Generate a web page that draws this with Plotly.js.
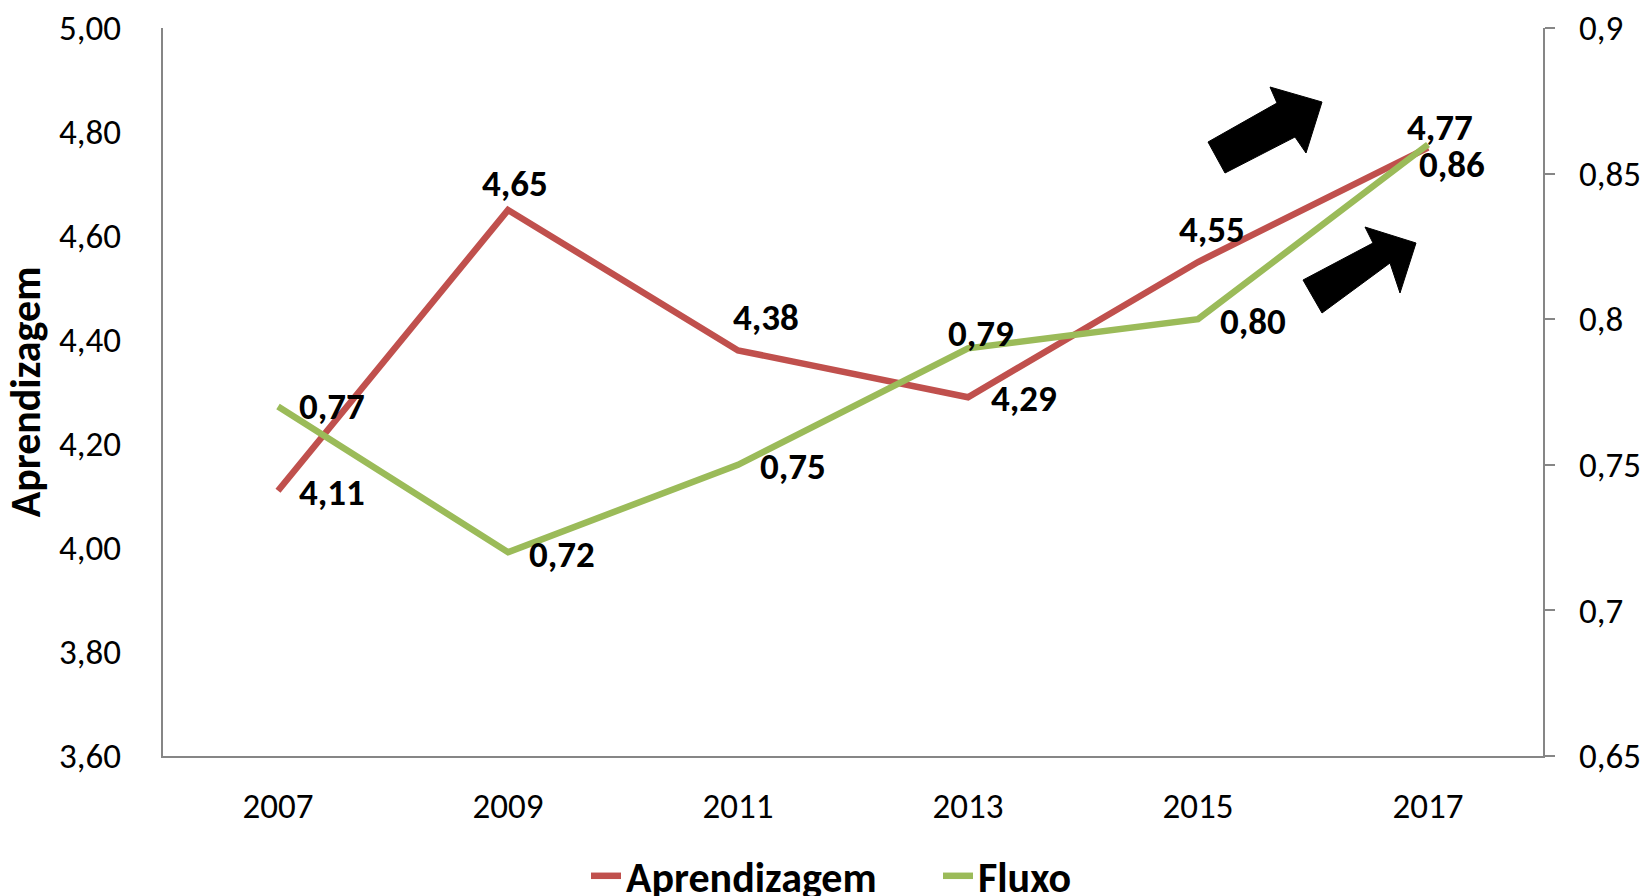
<!DOCTYPE html>
<html>
<head>
<meta charset="utf-8">
<script src="https://cdn.plot.ly/plotly-3.0.1.min.js"></script>
<style>html,body{margin:0;padding:0;background:#fff;}#chart{width:1646px;height:896px;}</style>
</head>
<body>
<div id="chart"></div>
<script>
// ---- data ----
const years = ["2007", "2009", "2011", "2013", "2015", "2017"];
const aprendizagem = [4.11, 4.65, 4.38, 4.29, 4.55, 4.77];
const fluxo = [0.77, 0.72, 0.75, 0.79, 0.80, 0.86];
const leftTickVals = [3.6, 3.8, 4.0, 4.2, 4.4, 4.6, 4.8, 5.0];
const leftTickText = ["3,60", "3,80", "4,00", "4,20", "4,40", "4,60", "4,80", "5,00"];
const rightTickVals = [0.65, 0.7, 0.75, 0.8, 0.85, 0.9];
const rightTickText = ["0,65", "0,7", "0,75", "0,8", "0,85", "0,9"];

// ---- label offsets (pixels) ----
const aprShift = [[54, -2], [7, 27], [28, 33], [56, -1], [14, 33], [12, 20]];
const fluShift = [[54, 0], [54, -2], [55, -2], [13, 15], [55, -2], [24, -20]];

const W = 1646, H = 896;
const M = {l: 163, r: 103, t: 28, b: 140, autoexpand: false};
const FONT = "Carlito, Calibri, 'Liberation Sans', Arial, sans-serif";
const RED = "#C0504D", GREEN = "#9BBB59", AXIS = "#868686";

function fmt(v) { return v.toFixed(2).replace('.', ','); }
function px(x) { return (x - M.l) / (W - M.l - M.r); }
function py(y) { return 1 - (y - M.t) / (H - M.t - M.b); }
function pathOf(pts) {
  return 'M ' + pts.map(p => px(p[0]) + ',' + py(p[1])).join(' L ') + ' Z';
}

const arrow1 = [[1208,142],[1277,103],[1270,87],[1322,102],[1306,153],[1295,137],[1225,173]];
const arrow2 = [[1303,280],[1373,243],[1365,227],[1416,243],[1400,293],[1390,263],[1322,313]];

const traces = [
  {x: years, y: aprendizagem, name: "Aprendizagem", type: "scatter", mode: "lines",
   line: {color: RED, width: 6.5}, yaxis: "y"},
  {x: years, y: fluxo, name: "Fluxo", type: "scatter", mode: "lines",
   line: {color: GREEN, width: 6.5}, yaxis: "y2"}
];

const labelFont = {family: FONT, size: 37, color: "#000"};
const annotations = [];
years.forEach((yr, i) => {
  annotations.push({x: i, y: aprendizagem[i], xref: "x", yref: "y", text: "<b>" + fmt(aprendizagem[i]) + "</b>",
    showarrow: false, xshift: aprShift[i][0], yshift: aprShift[i][1], font: labelFont});
  annotations.push({x: i, y: fluxo[i], xref: "x", yref: "y2", text: "<b>" + fmt(fluxo[i]) + "</b>",
    showarrow: false, xshift: fluShift[i][0], yshift: fluShift[i][1], font: labelFont});
});

const tickFont = {family: FONT, size: 35, color: "#000"};
const layout = {
  width: W, height: H,
  margin: M,
  paper_bgcolor: "#fff", plot_bgcolor: "#fff",
  showlegend: true,
  font: {family: FONT, size: 35, color: "#000"},
  xaxis: {
    type: "category", range: [-0.5, 5.5],
    showgrid: false, zeroline: false,
    showline: true, linecolor: AXIS, linewidth: 2,
    ticks: "", ticklabelstandoff: 18,
    tickfont: tickFont
  },
  yaxis: {
    range: [3.6, 5.0], tickvals: leftTickVals, ticktext: leftTickText,
    showgrid: false, zeroline: false,
    showline: true, linecolor: AXIS, linewidth: 2,
    ticks: "", ticklabelstandoff: 33,
    tickfont: tickFont,
    title: {text: "Aprendizagem", font: {family: FONT, size: 42, color: "#000", weight: "bold"}, standoff: 6}
  },
  yaxis2: {
    overlaying: "y", side: "right",
    range: [0.65, 0.9], tickvals: rightTickVals, ticktext: rightTickText,
    showgrid: false, zeroline: false,
    showline: true, linecolor: AXIS, linewidth: 2,
    ticks: "outside", ticklen: 10, tickcolor: AXIS, tickwidth: 2, ticklabelstandoff: 17,
    tickfont: tickFont
  },
  legend: {
    orientation: "h", x: px(586), xanchor: "left", y: py(876), yanchor: "middle",
    font: {family: FONT, size: 42, color: "#000", weight: "bold"},
    entrywidth: 307,
    bgcolor: "rgba(0,0,0,0)"
  },
  annotations: annotations,
  shapes: [
    {type: "path", xref: "paper", yref: "paper", path: pathOf(arrow1), fillcolor: "#000", line: {color: "#000", width: 1}},
    {type: "path", xref: "paper", yref: "paper", path: pathOf(arrow2), fillcolor: "#000", line: {color: "#000", width: 1}}
  ]
};

Plotly.newPlot("chart", traces, layout, {displayModeBar: false, staticPlot: true});
</script>
</body>
</html>
